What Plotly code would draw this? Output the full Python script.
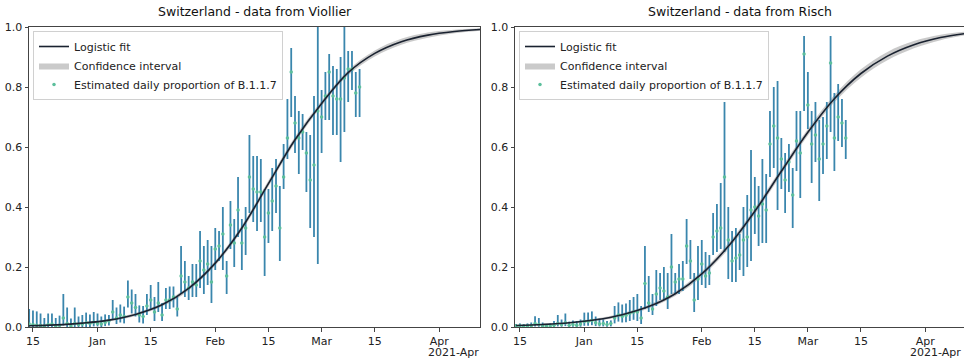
import pandas as pd
import plotly.graph_objects as go

# ---------------- data ----------------
titles = ["Switzerland - data from Viollier", "Switzerland - data from Risch"]
legend_names = ["Logistic fit", "Confidence interval", "Estimated daily proportion of B.1.1.7"]

fit_dates = ["2020-12-14", "2020-12-21", "2020-12-28", "2021-01-04", "2021-01-11", "2021-01-18",
             "2021-01-25", "2021-02-01", "2021-02-08", "2021-02-15", "2021-02-22", "2021-03-01",
             "2021-03-08", "2021-03-15", "2021-03-22", "2021-03-29", "2021-04-05", "2021-04-12"]

fit_v = [0.004, 0.007, 0.013, 0.023, 0.042, 0.074, 0.129, 0.213, 0.330, 0.478, 0.624, 0.745,
         0.848, 0.912, 0.951, 0.973, 0.985, 0.992]
fit_v_lo = [0.003, 0.005, 0.010, 0.019, 0.037, 0.068, 0.122, 0.205, 0.321, 0.468, 0.614, 0.736,
            0.839, 0.902, 0.941, 0.964, 0.979, 0.988]
fit_v_hi = [0.005, 0.009, 0.016, 0.027, 0.047, 0.080, 0.136, 0.221, 0.339, 0.488, 0.634, 0.754,
            0.857, 0.922, 0.961, 0.982, 0.991, 0.996]

fit_r = [0.0049, 0.0084, 0.014, 0.024, 0.041, 0.068, 0.111, 0.177, 0.269, 0.386, 0.519, 0.649,
         0.761, 0.845, 0.903, 0.941, 0.965, 0.979]
fit_r_lo = [0.0039, 0.0064, 0.011, 0.020, 0.036, 0.062, 0.103, 0.168, 0.259, 0.375, 0.508, 0.638,
            0.749, 0.831, 0.889, 0.929, 0.956, 0.973]
fit_r_hi = [0.0059, 0.0104, 0.017, 0.028, 0.046, 0.074, 0.119, 0.186, 0.279, 0.397, 0.530, 0.660,
            0.773, 0.859, 0.917, 0.953, 0.974, 0.985]

# Viollier daily estimates (start 2020-12-14)
v_start = "2020-12-14"
v_val = [0.010, 0.008, 0.006, 0.005, 0.003, 0.008, 0.010, 0.004, 0.006, 0.030, 0.012, 0.004,
         0.012, 0.008, 0.010, 0.014, 0.012, 0.016,
         0.012, 0.010, 0.015, 0.020, 0.050, 0.030, 0.040, 0.035, 0.100, 0.080, 0.065, 0.040,
         0.035, 0.070,
         0.090, 0.050, 0.080, 0.040, 0.090, 0.090, 0.100, 0.060, 0.170, 0.150, 0.130, 0.150,
         0.140, 0.220, 0.190, 0.210, 0.150,
         0.260, 0.270, 0.310, 0.170, 0.340, 0.280, 0.390, 0.280, 0.330, 0.500, 0.460, 0.450,
         0.450, 0.300, 0.380, 0.420, 0.470, 0.330, 0.500, 0.630, 0.850, 0.680, 0.630, 0.650,
         0.580, 0.490, 0.540, 0.720,
         0.700, 0.770, 0.850, 0.770, 0.760, 0.760, 0.830, 0.860, 0.860, 0.780, 0.800]
v_lo = [0.000, 0.000, 0.000, 0.000, 0.000, 0.000, 0.000, 0.000, 0.000, 0.005, 0.000, 0.000,
        0.000, 0.000, 0.000, 0.000, 0.000, 0.002,
        0.002, 0.000, 0.003, 0.005, 0.025, 0.010, 0.015, 0.012, 0.065, 0.045, 0.035, 0.015,
        0.012, 0.040,
        0.057, 0.020, 0.050, 0.020, 0.060, 0.060, 0.065, 0.035, 0.110, 0.100, 0.090, 0.100,
        0.100, 0.130, 0.110, 0.140, 0.080,
        0.190, 0.220, 0.190, 0.110, 0.260, 0.200, 0.300, 0.190, 0.240, 0.380, 0.350, 0.320,
        0.350, 0.170, 0.280, 0.320, 0.380, 0.220, 0.460, 0.560, 0.700, 0.580, 0.510, 0.590,
        0.450, 0.330, 0.300, 0.210,
        0.580, 0.690, 0.690, 0.640, 0.640, 0.550, 0.650, 0.750, 0.790, 0.700, 0.700]
v_hi = [0.060, 0.055, 0.052, 0.045, 0.030, 0.045, 0.045, 0.030, 0.038, 0.110, 0.065, 0.028,
        0.065, 0.035, 0.040, 0.048, 0.042, 0.050,
        0.045, 0.035, 0.042, 0.040, 0.090, 0.065, 0.075, 0.068, 0.155, 0.125, 0.110, 0.072,
        0.070, 0.110,
        0.140, 0.100, 0.150, 0.080, 0.130, 0.135, 0.135, 0.100, 0.270, 0.220, 0.170, 0.210,
        0.210, 0.320, 0.270, 0.290, 0.270,
        0.330, 0.320, 0.400, 0.220, 0.420, 0.360, 0.500, 0.360, 0.400, 0.640, 0.570, 0.570,
        0.560, 0.460, 0.460, 0.530, 0.560, 0.470, 0.610, 0.760, 0.930, 0.770, 0.720, 0.710,
        0.650, 0.640, 0.770, 1.000,
        0.790, 0.850, 0.910, 0.870, 0.860, 0.900, 1.000, 0.920, 0.920, 0.850, 0.860]

# Risch daily estimates (start 2020-12-14)
r_start = "2020-12-14"
r_val = [0.003, 0.004, 0.003, 0.004, 0.005, 0.012, 0.008, 0.004, 0.003, 0.004, 0.006, 0.012,
         0.008, 0.014, 0.006, 0.008, 0.006, 0.010,
         0.018, 0.018, 0.022, 0.014, 0.010, 0.012, 0.008, 0.012, 0.030, 0.040, 0.035, 0.038,
         0.045, 0.050,
         0.050, 0.030, 0.145, 0.080, 0.060, 0.110, 0.130, 0.120, 0.100, 0.200, 0.150, 0.160,
         0.160, 0.270, 0.220, 0.090, 0.160,
         0.210, 0.170, 0.180, 0.300, 0.320, 0.330, 0.500, 0.290, 0.220, 0.230, 0.240, 0.290,
         0.300, 0.390, 0.400, 0.370, 0.410, 0.390, 0.610, 0.670, 0.630, 0.560, 0.490, 0.550,
         0.440, 0.620, 0.580, 0.910,
         0.740, 0.610, 0.640, 0.560, 0.610, 0.670, 0.880, 0.630, 0.700, 0.680, 0.630]
r_lo = [0.000, 0.000, 0.000, 0.000, 0.000, 0.002, 0.001, 0.000, 0.000, 0.000, 0.000, 0.002,
        0.001, 0.003, 0.000, 0.001, 0.000, 0.001,
        0.004, 0.004, 0.006, 0.003, 0.002, 0.002, 0.001, 0.002, 0.012, 0.018, 0.015, 0.016,
        0.020, 0.024,
        0.020, 0.010, 0.060, 0.050, 0.040, 0.070, 0.090, 0.090, 0.060, 0.110, 0.110, 0.110,
        0.120, 0.210, 0.160, 0.050, 0.090,
        0.140, 0.130, 0.140, 0.240, 0.250, 0.260, 0.250, 0.160, 0.150, 0.150, 0.190, 0.170,
        0.200, 0.220, 0.310, 0.270, 0.280, 0.280, 0.500, 0.530, 0.390, 0.460, 0.380, 0.450,
        0.330, 0.520, 0.430, 0.720,
        0.660, 0.480, 0.550, 0.420, 0.510, 0.560, 0.650, 0.520, 0.620, 0.600, 0.560]
r_hi = [0.010, 0.012, 0.010, 0.012, 0.015, 0.036, 0.030, 0.015, 0.010, 0.012, 0.020, 0.040,
        0.025, 0.045, 0.018, 0.022, 0.020, 0.025,
        0.048, 0.048, 0.052, 0.035, 0.028, 0.025, 0.020, 0.022, 0.070, 0.082, 0.075, 0.078,
        0.090, 0.100,
        0.110, 0.070, 0.270, 0.170, 0.110, 0.190, 0.180, 0.200, 0.180, 0.310, 0.180, 0.210,
        0.220, 0.360, 0.290, 0.180, 0.270,
        0.290, 0.250, 0.240, 0.380, 0.410, 0.480, 0.750, 0.400, 0.320, 0.330, 0.310, 0.400,
        0.440, 0.590, 0.500, 0.470, 0.560, 0.510, 0.720, 0.800, 0.820, 0.630, 0.580, 0.610,
        0.530, 0.720, 0.720, 0.970,
        0.850, 0.720, 0.750, 0.690, 0.700, 0.750, 0.970, 0.780, 0.810, 0.760, 0.690]

tick_vals = ["2020-12-15", "2021-01-01", "2021-01-15", "2021-02-01", "2021-02-15",
             "2021-03-01", "2021-03-15", "2021-04-01"]
tick_text = ["15", "Jan", "15", "Feb", "15", "Mar", "15", "Apr"]
offset_label = "2021-Apr"
y_ticks = [0.0, 0.2, 0.4, 0.6, 0.8, 1.0]
y_text = ["0.0", "0.2", "0.4", "0.6", "0.8", "1.0"]

# ---------------- figure ----------------
W, H = 964, 361
FONT = "DejaVu Sans"
BAR = "#3a86ad"
DOT = "#5cbf9c"
BAND = "rgba(150,150,150,0.5)"
FIT = "#1a2230"

fig = go.Figure()

panels = [
    (fit_v, fit_v_lo, fit_v_hi, v_start, v_val, v_lo, v_hi, "x", "y", "legend"),
    (fit_r, fit_r_lo, fit_r_hi, r_start, r_val, r_lo, r_hi, "x2", "y2", "legend2"),
]

for fit, flo, fhi, start, val, lo, hi, xa, ya, lg in panels:
    dates = pd.date_range(start, periods=len(val), freq="D")
    fig.add_trace(go.Scatter(x=fit_dates, y=flo, mode="lines", line=dict(width=0, shape="spline"),
                             showlegend=False, hoverinfo="skip", xaxis=xa, yaxis=ya))
    fig.add_trace(go.Scatter(x=fit_dates, y=fhi, mode="lines", line=dict(width=0, shape="spline"),
                             fill="tonexty", fillcolor=BAND, name=legend_names[1],
                             legend=lg, legendrank=2, xaxis=xa, yaxis=ya))
    fig.add_trace(go.Scatter(
        x=dates, y=val, mode="markers",
        marker=dict(size=3.5, color=DOT),
        error_y=dict(type="data", symmetric=False,
                     array=[h - v for h, v in zip(hi, val)],
                     arrayminus=[v - l for v, l in zip(val, lo)],
                     color=BAR, thickness=1.8, width=0),
        name=legend_names[2], legend=lg, legendrank=3, xaxis=xa, yaxis=ya))
    fig.add_trace(go.Scatter(x=fit_dates, y=fit, mode="lines",
                             line=dict(color=FIT, width=1.6, shape="spline"),
                             name=legend_names[0], legend=lg, legendrank=1, xaxis=xa, yaxis=ya))

ydom = [(H - 327) / H, (H - 27) / H]
axis_common = dict(showline=True, mirror=True, linecolor="#444", linewidth=1,
                   ticks="outside", ticklen=3.5, tickcolor="#444", showgrid=False,
                   zeroline=False, automargin=False,
                   tickfont=dict(family=FONT, size=11, color="#222"))

legend_common = dict(xanchor="left", yanchor="top", traceorder="normal",
                     bgcolor="rgba(255,255,255,0.85)", bordercolor="#d0d0d0", borderwidth=1,
                     font=dict(family=FONT, size=11, color="#222"), tracegroupgap=0,
                     itemwidth=30)

fig.update_layout(
    width=W, height=H,
    margin=dict(l=0, r=0, t=0, b=0, autoexpand=False),
    paper_bgcolor="white", plot_bgcolor="white",
    font=dict(family=FONT, size=11, color="#222"),
    xaxis=dict(domain=[29 / W, 480 / W], type="date",
               range=["2020-12-13 23:00", "2021-04-11 17:00"],
               tickvals=tick_vals, ticktext=tick_text, anchor="y", **axis_common),
    yaxis=dict(domain=ydom, range=[0, 1], tickvals=y_ticks, ticktext=y_text,
               anchor="x", **axis_common),
    xaxis2=dict(domain=[515 / W, 1.0], type="date",
                range=["2020-12-13 17:00", "2021-04-11 05:00"],
                tickvals=tick_vals, ticktext=tick_text, anchor="y2", **axis_common),
    yaxis2=dict(domain=ydom, range=[0, 1], tickvals=y_ticks, ticktext=y_text,
                anchor="x2", **axis_common),
    legend=dict(x=33 / W, y=(H - 31) / H, **legend_common),
    legend2=dict(x=519 / W, y=(H - 31) / H, **legend_common),
)

for t, xc in [(titles[0], (29 + 480) / 2 / W), (titles[1], (515 + 964) / 2 / W)]:
    fig.add_annotation(text=t, x=xc, y=(H - 21) / H, xref="paper", yref="paper",
                       xanchor="center", yanchor="bottom", showarrow=False,
                       font=dict(family=FONT, size=12.5, color="#111"))

for xr in [481 / W, 963 / W]:
    fig.add_annotation(text=offset_label, x=xr, y=(H - 352) / H, xref="paper", yref="paper",
                       xanchor="right", yanchor="middle", showarrow=False,
                       font=dict(family=FONT, size=11, color="#222"))

fig.write_html("out.html")
